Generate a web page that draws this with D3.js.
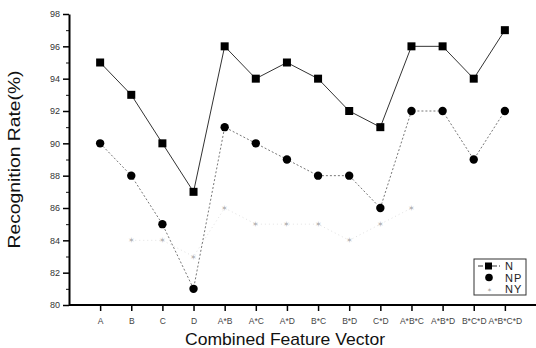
<!DOCTYPE html>
<html>
<head>
<meta charset="utf-8">
<script src="https://cdn.jsdelivr.net/npm/d3@7"></script>
<style>
  body { margin: 0; background: #fff; }
  svg { display: block; font-family: "Liberation Sans", Arial, sans-serif; }
</style>
</head>
<body>
<svg id="chart" width="536" height="348"></svg>
<script>
var categories = ["A", "B", "C", "D", "A*B", "A*C", "A*D", "B*C", "B*D", "C*D",
  "A*B*C", "A*B*D", "B*C*D", "A*B*C*D"];
var valuesN = [95, 93, 90, 87, 96, 94, 95, 94, 92, 91, 96, 96, 94, 97];
var valuesNP = [90, 88, 85, 81, 91, 90, 89, 88, 88, 86, 92, 92, 89, 92];
var valuesNY = [null, 84, 84, 83, 86, 85, 85, 85, 84, 85, 86, null, null, null];
var yTicks = [80, 82, 84, 86, 88, 90, 92, 94, 96, 98];

var svg = d3.select("#chart");
var padLeft = 69, padRight = 536, padTop = 14, padBottom = 305;

var x = d3.scalePoint().domain(categories).range([padLeft, padRight]).padding(1);
var y = d3.scaleLinear().domain([80, 98]).range([padBottom, padTop]);

// y axis with minor ticks
var yMinor = svg.append("g").attr("transform", "translate(" + padLeft + ",0)")
  .call(d3.axisLeft(y).tickValues(d3.range(81, 98, 2)).tickSize(3).tickFormat(""));
yMinor.selectAll(".tick line").attr("stroke", "#111");
yMinor.select(".domain").remove();
var yMajor = svg.append("g").attr("transform", "translate(" + padLeft + ",0)")
  .call(d3.axisLeft(y).tickValues(yTicks).tickSize(6).tickSizeOuter(0).tickPadding(3));
yMajor.select(".domain").attr("stroke", "#000").attr("stroke-width", 2);
yMajor.selectAll(".tick line").attr("stroke", "#000").attr("stroke-width", 1.5);
yMajor.selectAll("text").attr("font-size", 9).attr("fill", "#333");

// x axis
var xAxis = svg.append("g").attr("transform", "translate(0," + padBottom + ")")
  .call(d3.axisBottom(x).tickSize(6).tickSizeOuter(0).tickPadding(7));
xAxis.select(".domain").attr("stroke", "#000").attr("stroke-width", 2)
  .attr("d", "M" + padLeft + ",0H" + padRight);
xAxis.selectAll(".tick line").attr("stroke", "#000").attr("stroke-width", 1.5);
xAxis.selectAll("text").attr("font-size", 8.5).attr("fill", "#444");

// titles
svg.append("text")
  .attr("transform", "translate(20," + ((padTop + padBottom) / 2) + ") rotate(-90)")
  .attr("text-anchor", "middle")
  .attr("font-size", 16).attr("fill", "#111")
  .attr("textLength", 178).attr("lengthAdjust", "spacingAndGlyphs")
  .text("Recognition Rate(%)");
svg.append("text")
  .attr("x", 285).attr("y", 345)
  .attr("text-anchor", "middle")
  .attr("font-size", 17).attr("fill", "#111")
  .attr("textLength", 200).attr("lengthAdjust", "spacingAndGlyphs")
  .text("Combined Feature Vector");

function series(vals) {
  return categories.map((c, i) => ({ cat: c, v: vals[i] }));
}
var line = d3.line().defined(d => d.v != null).x(d => x(d.cat)).y(d => y(d.v));

// NY (very faint in the original scan)
var ny = series(valuesNY);
svg.append("path").datum(ny).attr("d", line).attr("fill", "none")
  .attr("stroke", "#e2e2e2").attr("stroke-width", 1).attr("stroke-dasharray", "1,3");
svg.append("g").selectAll("text").data(ny.filter(d => d.v != null)).join("text")
  .attr("x", d => x(d.cat)).attr("y", d => y(d.v) + 3)
  .attr("text-anchor", "middle").attr("font-size", 8).attr("fill", "#b5b5b5")
  .text("\u2736");

// NP
var np = series(valuesNP);
svg.append("path").datum(np).attr("d", line).attr("fill", "none")
  .attr("stroke", "#777").attr("stroke-width", 1).attr("stroke-dasharray", "2,2");
svg.append("g").selectAll("circle").data(np).join("circle")
  .attr("cx", d => x(d.cat)).attr("cy", d => y(d.v)).attr("r", 4.2)
  .attr("fill", "#000");

// N
var n = series(valuesN);
svg.append("path").datum(n).attr("d", line).attr("fill", "none")
  .attr("stroke", "#333").attr("stroke-width", 1);
svg.append("g").selectAll("rect").data(n).join("rect")
  .attr("x", d => x(d.cat) - 4).attr("y", d => y(d.v) - 4)
  .attr("width", 8).attr("height", 8).attr("fill", "#000");

// legend
var lg = svg.append("g").attr("transform", "translate(474,259)");
lg.append("rect").attr("width", 52).attr("height", 36)
  .attr("fill", "#fff").attr("stroke", "#333").attr("stroke-width", 1);
var items = [
  { name: "N", type: "square" },
  { name: "NP", type: "circle" },
  { name: "NY", type: "star" }
];
items.forEach(function (it, i) {
  var cy = 7 + i * 11.5;
  if (it.type === "square") {
    lg.append("line").attr("x1", 4).attr("x2", 26).attr("y1", cy).attr("y2", cy)
      .attr("stroke", "#333").attr("stroke-dasharray", "5,2");
    lg.append("rect").attr("x", 11).attr("y", cy - 3.5).attr("width", 7).attr("height", 7).attr("fill", "#000");
  } else if (it.type === "circle") {
    lg.append("circle").attr("cx", 15).attr("cy", cy).attr("r", 3.8).attr("fill", "#000");
  } else {
    lg.append("text").attr("x", 15).attr("y", cy + 3).attr("text-anchor", "middle")
      .attr("font-size", 6).attr("fill", "#aaa").text("\u2736");
  }
  lg.append("text").attr("x", 31).attr("y", cy + 4).attr("font-size", 11)
    .attr("fill", "#222").attr("letter-spacing", 1).text(it.name);
});
</script>
</body>
</html>
